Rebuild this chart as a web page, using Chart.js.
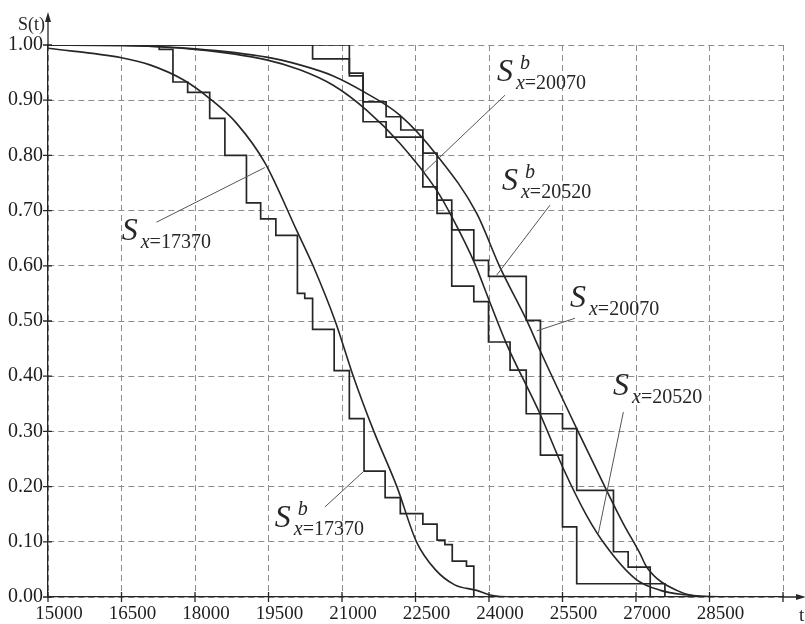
<!DOCTYPE html>
<html>
<head>
<meta charset="utf-8">
<script src="https://cdn.jsdelivr.net/npm/chart.js@4/dist/chart.umd.min.js"></script>
<style>html,body{margin:0;padding:0;background:#fff}canvas{display:block}</style>
</head>
<body>
<canvas id="chart" width="805" height="624"></canvas>
<script>
// axis ticks
const xTicks = [15000,16500,18000,19500,21000,22500,24000,25500,27000,28500,30000];
const yTicks = [0,0.1,0.2,0.3,0.4,0.5,0.6,0.7,0.8,0.9,1.0];

// empirical (step) survival functions: time of drop, value after the drop
const tSb17370 = [15000,17270,17550,17850,18300,18610,19050,19340,19650,20090,20240,20400,20840,21150,21450,21880,22190,22650,22940,23100,23250,23540,23690];
const sSb17370 = [1.0,0.992,0.933,0.914,0.867,0.800,0.714,0.685,0.655,0.550,0.541,0.485,0.410,0.323,0.228,0.180,0.151,0.132,0.103,0.095,0.065,0.056,0.0];

const tSb20070 = [15000,20400,21150,21430,21900,22650,22940,23240,23690,23990,24430,24760,25500,25790,26540,26840,27290];
const sSb20070 = [1.0,0.975,0.944,0.861,0.833,0.743,0.695,0.563,0.535,0.462,0.411,0.332,0.305,0.193,0.082,0.054,0.0];

const tSb20520 = [15000,21150,21430,21900,22200,22650,22940,23240,23690,23990,24760,25050,25500,25790,27590];
const sSb20520 = [1.0,0.949,0.897,0.870,0.846,0.804,0.719,0.665,0.610,0.581,0.501,0.257,0.127,0.024,0.0];

// fitted survival curves
const tS17370 = [15000,16500,17080,17760,18300,18850,19430,20070,20410,20860,21230,21650,22120,22520,22900,23300,23750,24000,24500,30000];
const sS17370 = [0.994,0.977,0.964,0.937,0.903,0.858,0.786,0.665,0.600,0.500,0.400,0.300,0.200,0.100,0.050,0.022,0.012,0.004,0.0,0.0];

const tS20520 = [15000,16500,18000,19460,20140,20820,21500,22180,22930,23240,23710,24000,24350,25040,25500,25990,26400,27000,27500,28000,28500,30000];
const sS20520 = [1.0,0.999,0.992,0.973,0.955,0.927,0.882,0.822,0.737,0.689,0.604,0.538,0.460,0.332,0.236,0.148,0.091,0.032,0.012,0.004,0.001,0.0];

const tS20070 = [15000,16500,18000,19460,20140,20820,21450,22180,22940,23750,24220,24770,25040,25790,26400,26740,27080,27220,27830,28510,30000];
const sS20070 = [1.0,0.999,0.993,0.978,0.964,0.944,0.915,0.873,0.800,0.695,0.598,0.501,0.447,0.305,0.193,0.133,0.079,0.054,0.012,0.0,0.0];

// labels with leader lines (data coords)
const notes = [
  {t:16505, s:0.647, b:false, n:'17370', from:[17214,0.679], to:[19425,0.778]},
  {t:24162, s:0.935, b:true,  n:'20070', from:[24326,0.909], to:[22645,0.767]},
  {t:24265, s:0.737, b:true,  n:'20520', from:[25245,0.710], to:[24156,0.583]},
  {t:25653, s:0.525, b:false, n:'20070', from:[25755,0.505], to:[24973,0.482]},
  {t:26531, s:0.366, b:false, n:'20520', from:[26742,0.335], to:[26231,0.115]},
  {t:19629, s:0.126, b:true,  n:'17370', from:[20650,0.163], to:[21447,0.228]}
];

const pts = (ts, ss) => ts.map((t,i)=>({x:t, y:ss[i]}));
const INK = '#262626';
const serif = '"Liberation Serif", "DejaVu Serif", serif';

const stepSet = (ts, ss) => ({data:pts(ts,ss), stepped:true, borderColor:INK, borderWidth:1.7, pointRadius:0, fill:false});
const curveSet = (ts, ss) => ({data:pts(ts,ss), cubicInterpolationMode:'monotone', borderColor:INK, borderWidth:1.6, pointRadius:0, fill:false});

const decor = {
  id:'decor',
  afterDraw(chart){
    const {ctx, chartArea:a, scales:{x, y}} = chart;
    ctx.save();
    ctx.strokeStyle = INK; ctx.fillStyle = INK; ctx.lineWidth = 1.3;
    // axis extensions and arrows
    ctx.beginPath();
    ctx.moveTo(a.left, a.top); ctx.lineTo(a.left, 20);
    ctx.moveTo(a.right, a.bottom); ctx.lineTo(797, a.bottom);
    ctx.stroke();
    ctx.beginPath(); ctx.moveTo(a.left, 12); ctx.lineTo(a.left-3, 22); ctx.lineTo(a.left+3, 22); ctx.closePath(); ctx.fill();
    ctx.beginPath(); ctx.moveTo(806, a.bottom); ctx.lineTo(796, a.bottom-3); ctx.lineTo(796, a.bottom+3); ctx.closePath(); ctx.fill();
    // tick marks crossing the axes
    ctx.beginPath();
    xTicks.forEach(v=>{ const px = x.getPixelForValue(v); ctx.moveTo(px, a.bottom-5); ctx.lineTo(px, a.bottom+5); });
    yTicks.forEach(v=>{ const py = y.getPixelForValue(v); ctx.moveTo(a.left-5, py); ctx.lineTo(a.left+4, py); });
    ctx.stroke();
    // axis names
    ctx.font = '18px ' + serif;
    ctx.textAlign = 'right'; ctx.textBaseline = 'alphabetic';
    ctx.fillText('S(t)', 45, 30);
    ctx.textAlign = 'left';
    ctx.font = '19px ' + serif;
    ctx.fillText('t', 799, 621);
    // curve labels
    ctx.strokeStyle = '#555'; ctx.lineWidth = 1;
    notes.forEach(nt=>{
      ctx.beginPath();
      ctx.moveTo(x.getPixelForValue(nt.from[0]), y.getPixelForValue(nt.from[1]));
      ctx.lineTo(x.getPixelForValue(nt.to[0]), y.getPixelForValue(nt.to[1]));
      ctx.stroke();
      const lx = x.getPixelForValue(nt.t), ly = y.getPixelForValue(nt.s);
      ctx.font = 'italic 32px ' + serif;
      ctx.fillText('S', lx, ly);
      if (nt.b){ ctx.font = 'italic 20px ' + serif; ctx.fillText('b', lx+23, ly-12); }
      ctx.font = 'italic 20px ' + serif;
      ctx.fillText('x', lx+19, ly+8);
      const w = ctx.measureText('x').width;
      ctx.font = '20px ' + serif;
      ctx.fillText('=' + nt.n, lx+19+w, ly+8);
    });
    ctx.restore();
  }
};

new Chart(document.getElementById('chart'), {
  type:'line',
  data:{ datasets:[
    stepSet(tSb17370, sSb17370),
    stepSet(tSb20070, sSb20070),
    stepSet(tSb20520, sSb20520),
    curveSet(tS17370, sS17370),
    curveSet(tS20520, sS20520),
    curveSet(tS20070, sS20070)
  ]},
  options:{
    responsive:false, animation:false,
    layout:{ padding:{ left:0, right:22, top:45, bottom:0 } },
    plugins:{ legend:{display:false}, tooltip:{enabled:false} },
    scales:{
      x:{
        type:'linear', min:15000, max:30000,
        afterBuildTicks: s => { s.ticks = xTicks.map(v=>({value:v})); },
        afterFit: s => { s.height = 27; },
        grid:{ color:'#8c8c8c', lineWidth:1, drawTicks:false },
        border:{ display:true, color:INK, width:1.3, dash:[6,4] },
        ticks:{ autoSkip:false, maxRotation:0, padding:6, labelOffset:11, color:'#1e1e1e', font:{family:serif, size:19},
          callback: v => v === 30000 ? '' : String(v) }
      },
      y:{
        type:'linear', min:0, max:1,
        afterBuildTicks: s => { s.ticks = yTicks.map(v=>({value:v})); },
        afterFit: s => { s.width = 48; },
        grid:{ color:'#8c8c8c', lineWidth:1, drawTicks:false },
        border:{ display:true, color:INK, width:1.3, dash:[6,4] },
        ticks:{ padding:5, color:'#1e1e1e', font:{family:serif, size:20},
          callback: v => Number(v).toFixed(2) }
      }
    }
  },
  plugins:[decor]
});
</script>
</body>
</html>
